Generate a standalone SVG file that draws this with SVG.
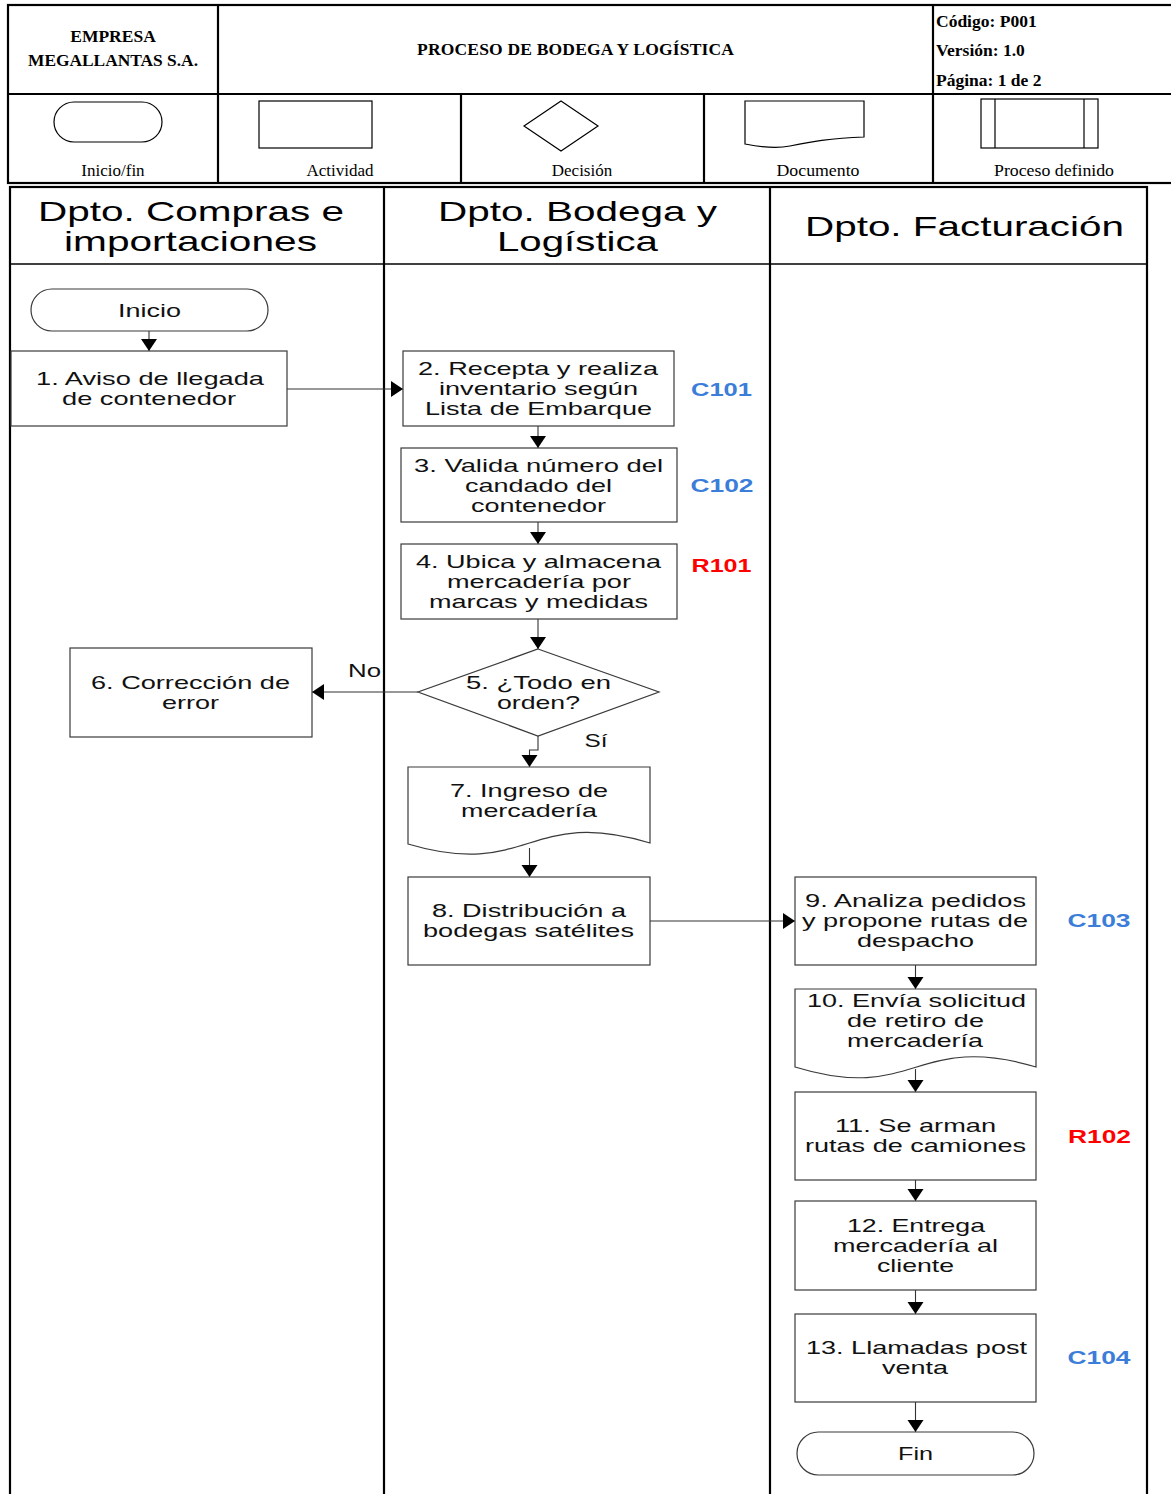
<svg xmlns="http://www.w3.org/2000/svg" width="1171" height="1494" viewBox="0 0 1171 1494">
  <style>
    .hdr { fill: none; stroke: #000; stroke-width: 2.2; }
    .tnr-b { font-family: "Liberation Serif", "Times New Roman", serif; font-weight: bold; font-size: 17.5px; fill: #000; }
    .tnr { font-family: "Liberation Serif", "Times New Roman", serif; font-size: 17px; fill: #000; }
    .sym { fill: #fff; stroke: #000; stroke-width: 1.2; }
    .lane { fill: none; stroke: #000; stroke-width: 2.2; }
    .lane-t { font-family: "Liberation Sans", Arial, sans-serif; font-size: 28px; fill: #000; text-anchor: middle; }
    .box { fill: #fff; stroke: #3a3a3a; stroke-width: 1.2; }
    .txt { font-family: "Liberation Sans", Arial, sans-serif; font-size: 18.5px; fill: #111; text-anchor: middle; }
    .code { font-family: "Liberation Sans", Arial, sans-serif; font-size: 18px; font-weight: bold; text-anchor: middle; }
    .blue { fill: #3b7dd8; }
    .red { fill: #ff0000; }
    .conn { fill: none; stroke: #333; stroke-width: 1.1; }
  </style>
  <defs>
    <marker id="ah" markerUnits="userSpaceOnUse" markerWidth="13" markerHeight="17" refX="12" refY="8" orient="auto">
      <path d="M0,0 L12,8 L0,16 Z" fill="#000"/>
    </marker>
  </defs>

  <rect width="1171" height="1494" fill="#fff"/>

  <!-- Title block -->
  <g id="title-block">
    <rect class="hdr" x="8" y="5" width="1170" height="178"/>
    <line class="hdr" x1="8" y1="94" x2="1171" y2="94"/>
    <line class="hdr" x1="218" y1="5" x2="218" y2="183"/>
    <line class="hdr" x1="933" y1="5" x2="933" y2="183"/>
    <line class="hdr" x1="461" y1="94" x2="461" y2="183"/>
    <line class="hdr" x1="704" y1="94" x2="704" y2="183"/>
    <text class="tnr-b" x="113" y="42" text-anchor="middle">EMPRESA</text>
    <text class="tnr-b" x="113" y="66" text-anchor="middle" textLength="170" lengthAdjust="spacingAndGlyphs">MEGALLANTAS S.A.</text>
    <text class="tnr-b" x="575.5" y="55" text-anchor="middle" textLength="317" lengthAdjust="spacing">PROCESO DE BODEGA Y LOGÍSTICA</text>
    <text class="tnr-b" x="936" y="27">Código: P001</text>
    <text class="tnr-b" x="936" y="56">Versión: 1.0</text>
    <text class="tnr-b" x="936" y="86">Página: 1 de 2</text>
  </g>

  <!-- Symbol legend -->
  <g id="legend">
    <rect class="sym" x="54" y="102" width="108" height="40" rx="20" ry="20"/>
    <rect class="sym" x="259" y="101" width="113" height="47"/>
    <polygon class="sym" points="561,101 598,126 561,151 524,126"/>
    <path class="sym" d="M745,101 H864 V137 C830,138 810,142 790,146 C775,149 760,147 745,144 Z"/>
    <rect class="sym" x="981" y="99" width="117" height="49"/>
    <line class="sym" x1="995" y1="99" x2="995" y2="148"/>
    <line class="sym" x1="1084" y1="99" x2="1084" y2="148"/>
    <text class="tnr" x="113" y="176" text-anchor="middle">Inicio/fin</text>
    <text class="tnr" x="340" y="176" text-anchor="middle">Actividad</text>
    <text class="tnr" x="582" y="176" text-anchor="middle">Decisión</text>
    <text class="tnr" x="818" y="176" text-anchor="middle" textLength="83" lengthAdjust="spacingAndGlyphs">Documento</text>
    <text class="tnr" x="1054" y="176" text-anchor="middle" textLength="120" lengthAdjust="spacingAndGlyphs">Proceso definido</text>
  </g>

  <!-- Swimlanes -->
  <g id="lanes">
    <rect class="lane" x="10" y="187" width="1137" height="1320"/>
    <line class="lane" x1="384" y1="187" x2="384" y2="1494"/>
    <line class="lane" x1="770" y1="187" x2="770" y2="1494"/>
    <line x1="10" y1="264" x2="1147" y2="264" stroke="#000" stroke-width="1.4"/>
    <text class="lane-t" x="191" y="221" textLength="306" lengthAdjust="spacingAndGlyphs">Dpto. Compras e</text>
    <text class="lane-t" x="190.5" y="251" textLength="253" lengthAdjust="spacingAndGlyphs">importaciones</text>
    <text class="lane-t" x="577.5" y="221" textLength="279" lengthAdjust="spacingAndGlyphs">Dpto. Bodega y</text>
    <text class="lane-t" x="577.5" y="251" textLength="161" lengthAdjust="spacingAndGlyphs">Logística</text>
    <text class="lane-t" x="964.5" y="236" textLength="319" lengthAdjust="spacingAndGlyphs">Dpto. Facturación</text>
  </g>

  <!-- Connectors -->
  <g id="connectors">
    <path class="conn" d="M149,331 V351" marker-end="url(#ah)"/>
    <path class="conn" d="M287,389 H403" marker-end="url(#ah)"/>
    <path class="conn" d="M538,426 V448" marker-end="url(#ah)"/>
    <path class="conn" d="M538,522 V544" marker-end="url(#ah)"/>
    <path class="conn" d="M538,619 V649" marker-end="url(#ah)"/>
    <path class="conn" d="M418,692 H312" marker-end="url(#ah)"/>
    <path class="conn" d="M538,736 V750 H529.5 V767" marker-end="url(#ah)"/>
    <path class="conn" d="M529.5,848 V877" marker-end="url(#ah)"/>
    <path class="conn" d="M650,921 H795" marker-end="url(#ah)"/>
    <path class="conn" d="M915.5,965 V989" marker-end="url(#ah)"/>
    <path class="conn" d="M915.5,1069 V1092" marker-end="url(#ah)"/>
    <path class="conn" d="M915.5,1180 V1201" marker-end="url(#ah)"/>
    <path class="conn" d="M915.5,1290 V1314" marker-end="url(#ah)"/>
    <path class="conn" d="M915.5,1402 V1432" marker-end="url(#ah)"/>
    <text class="txt" x="364.5" y="677" textLength="33" lengthAdjust="spacingAndGlyphs">No</text>
    <text class="txt" x="596" y="747" textLength="23" lengthAdjust="spacingAndGlyphs">Sí</text>
  </g>

  <!-- Nodes -->
  <g id="inicio">
    <rect class="box" x="31" y="289" width="237" height="42" rx="21" ry="21"/>
    <text class="txt" x="149.5" y="316.5" textLength="63" lengthAdjust="spacingAndGlyphs">Inicio</text>
  </g>
  <g id="n1">
    <rect class="box" x="11" y="351" width="276" height="75"/>
    <text class="txt" x="150" y="385" textLength="228" lengthAdjust="spacingAndGlyphs">1. Aviso de llegada</text>
    <text class="txt" x="149" y="405" textLength="174" lengthAdjust="spacingAndGlyphs">de contenedor</text>
  </g>
  <g id="n2">
    <rect class="box" x="403" y="351" width="271" height="75"/>
    <text class="txt" x="538" y="375" textLength="240" lengthAdjust="spacingAndGlyphs">2. Recepta y realiza</text>
    <text class="txt" x="538.5" y="395" textLength="199" lengthAdjust="spacingAndGlyphs">inventario según</text>
    <text class="txt" x="538.5" y="415" textLength="227" lengthAdjust="spacingAndGlyphs">Lista de Embarque</text>
    <text class="code blue" x="721.5" y="395.5" textLength="61" lengthAdjust="spacingAndGlyphs">C101</text>
  </g>
  <g id="n3">
    <rect class="box" x="401" y="448" width="276" height="74"/>
    <text class="txt" x="538.5" y="472" textLength="249" lengthAdjust="spacingAndGlyphs">3. Valida número del</text>
    <text class="txt" x="538.5" y="492" textLength="147" lengthAdjust="spacingAndGlyphs">candado del</text>
    <text class="txt" x="538.5" y="512" textLength="135" lengthAdjust="spacingAndGlyphs">contenedor</text>
    <text class="code blue" x="722" y="491.5" textLength="63" lengthAdjust="spacingAndGlyphs">C102</text>
  </g>
  <g id="n4">
    <rect class="box" x="401" y="544" width="276" height="75"/>
    <text class="txt" x="538.5" y="568" textLength="245" lengthAdjust="spacingAndGlyphs">4. Ubica y almacena</text>
    <text class="txt" x="539" y="588" textLength="184" lengthAdjust="spacingAndGlyphs">mercadería por</text>
    <text class="txt" x="538.5" y="608" textLength="219" lengthAdjust="spacingAndGlyphs">marcas y medidas</text>
    <text class="code red" x="721.5" y="572" textLength="60" lengthAdjust="spacingAndGlyphs">R101</text>
  </g>
  <g id="n5">
    <polygon class="box" points="538,649 659,692 538,736 418,692"/>
    <text class="txt" x="538.5" y="689" textLength="145" lengthAdjust="spacingAndGlyphs">5. ¿Todo en</text>
    <text class="txt" x="538.5" y="709" textLength="83" lengthAdjust="spacingAndGlyphs">orden?</text>
  </g>
  <g id="n6">
    <rect class="box" x="70" y="648" width="242" height="89"/>
    <text class="txt" x="190.5" y="689" textLength="199" lengthAdjust="spacingAndGlyphs">6. Corrección de</text>
    <text class="txt" x="190.5" y="709" textLength="57" lengthAdjust="spacingAndGlyphs">error</text>
  </g>
  <g id="n7">
    <path class="box" d="M408,767 H650 V843 C529,806 529,880 408,844 Z"/>
    <text class="txt" x="529" y="796.5" textLength="158" lengthAdjust="spacingAndGlyphs">7. Ingreso de</text>
    <text class="txt" x="529" y="816.5" textLength="136" lengthAdjust="spacingAndGlyphs">mercadería</text>
  </g>
  <g id="n8">
    <rect class="box" x="408" y="877" width="242" height="88"/>
    <text class="txt" x="529" y="917" textLength="194" lengthAdjust="spacingAndGlyphs">8. Distribución a</text>
    <text class="txt" x="528.5" y="937" textLength="211" lengthAdjust="spacingAndGlyphs">bodegas satélites</text>
  </g>
  <g id="n9">
    <rect class="box" x="795" y="877" width="241" height="88"/>
    <text class="txt" x="915.5" y="906.5" textLength="221" lengthAdjust="spacingAndGlyphs">9. Analiza pedidos</text>
    <text class="txt" x="915" y="926.5" textLength="226" lengthAdjust="spacingAndGlyphs">y propone rutas de</text>
    <text class="txt" x="915.5" y="946.5" textLength="117" lengthAdjust="spacingAndGlyphs">despacho</text>
    <text class="code blue" x="1099" y="926.5" textLength="63" lengthAdjust="spacingAndGlyphs">C103</text>
  </g>
  <g id="n10">
    <path class="box" d="M795,989 H1036 V1067 C915.5,1031 915.5,1104 795,1067 Z"/>
    <text class="txt" x="916.5" y="1007" textLength="219" lengthAdjust="spacingAndGlyphs">10. Envía solicitud</text>
    <text class="txt" x="915.5" y="1027" textLength="137" lengthAdjust="spacingAndGlyphs">de retiro de</text>
    <text class="txt" x="915" y="1047" textLength="136" lengthAdjust="spacingAndGlyphs">mercadería</text>
  </g>
  <g id="n11">
    <rect class="box" x="795" y="1092" width="241" height="88"/>
    <text class="txt" x="915.5" y="1132" textLength="161" lengthAdjust="spacingAndGlyphs">11. Se arman</text>
    <text class="txt" x="915.5" y="1152" textLength="221" lengthAdjust="spacingAndGlyphs">rutas de camiones</text>
    <text class="code red" x="1099.5" y="1143" textLength="63" lengthAdjust="spacingAndGlyphs">R102</text>
  </g>
  <g id="n12">
    <rect class="box" x="795" y="1201" width="241" height="89"/>
    <text class="txt" x="916" y="1232" textLength="138" lengthAdjust="spacingAndGlyphs">12. Entrega</text>
    <text class="txt" x="915.5" y="1252" textLength="165" lengthAdjust="spacingAndGlyphs">mercadería al</text>
    <text class="txt" x="915.5" y="1272" textLength="77" lengthAdjust="spacingAndGlyphs">cliente</text>
  </g>
  <g id="n13">
    <rect class="box" x="795" y="1314" width="241" height="88"/>
    <text class="txt" x="916.5" y="1354" textLength="221" lengthAdjust="spacingAndGlyphs">13. Llamadas post</text>
    <text class="txt" x="915" y="1374" textLength="66" lengthAdjust="spacingAndGlyphs">venta</text>
    <text class="code blue" x="1099" y="1364" textLength="63" lengthAdjust="spacingAndGlyphs">C104</text>
  </g>
  <g id="fin">
    <rect class="box" x="797" y="1432" width="237" height="43" rx="21.5" ry="21.5"/>
    <text class="txt" x="915.5" y="1459.5" textLength="35" lengthAdjust="spacingAndGlyphs">Fin</text>
  </g>
</svg>
